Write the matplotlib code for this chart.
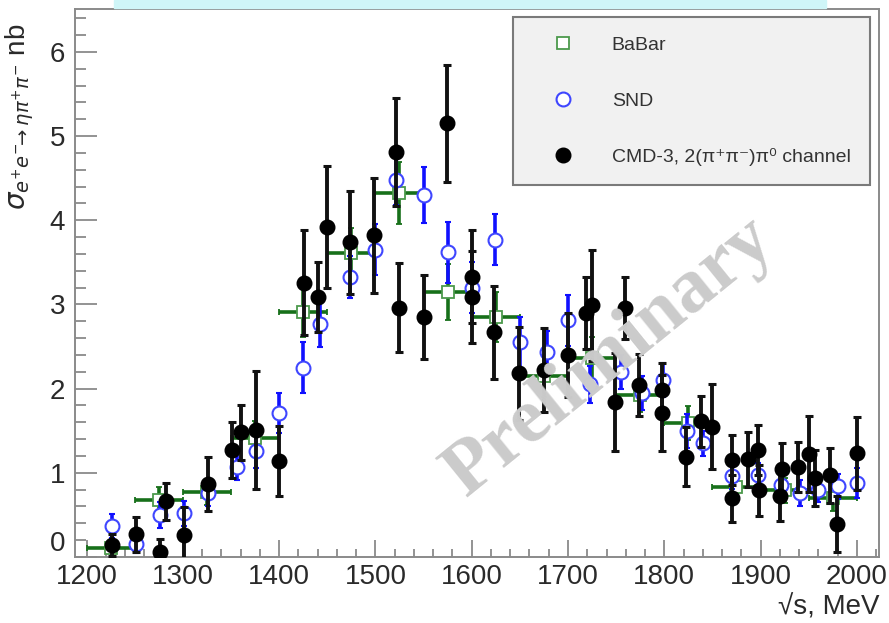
import numpy as np
import matplotlib
matplotlib.use("Agg")
import matplotlib.pyplot as plt
from matplotlib.lines import Line2D
from matplotlib.patches import Rectangle
from matplotlib.ticker import MultipleLocator

# BaBar: bin centres (MeV), cross section (nb), stat. error
babar_x = [1225, 1275, 1325, 1375, 1425, 1475, 1525, 1575,
           1625, 1675, 1725, 1775, 1825, 1875, 1925, 1975]
babar_y = [0.11, 0.68, 0.77, 1.41, 2.91, 3.61, 4.32, 3.15,
           2.85, 2.15, 2.36, 1.92, 1.59, 0.83, 0.79, 0.70]
babar_err = [0.06, 0.15, 0.15, 0.2, 0.3, 0.3, 0.37, 0.33,
             0.3, 0.25, 0.25, 0.2, 0.2, 0.15, 0.15, 0.15]
babar_halfbin = 25

# SND
snd_x = [1226, 1251, 1276, 1301, 1326, 1356, 1376, 1400, 1425, 1442,
         1474, 1500, 1521, 1550, 1575, 1600, 1624, 1650, 1678, 1700,
         1723, 1755, 1777, 1799, 1824, 1840, 1870, 1897, 1921, 1941,
         1960, 1980, 2000]
snd_y = [0.37, 0.15, 0.50, 0.52, 0.76, 1.07, 1.26, 1.71, 2.25, 2.77,
         3.33, 3.65, 4.48, 4.30, 3.62, 3.20, 3.77, 2.55, 2.43, 2.81,
         2.05, 2.20, 1.95, 2.10, 1.50, 1.35, 0.96, 0.97, 0.86, 0.76,
         0.80, 0.84, 0.88]
snd_err = [0.14, 0.10, 0.15, 0.15, 0.15, 0.16, 0.2, 0.24, 0.3, 0.28,
           0.25, 0.3, 0.3, 0.33, 0.36, 0.3, 0.3, 0.3, 0.25, 0.3,
           0.22, 0.2, 0.2, 0.2, 0.2, 0.15, 0.15, 0.15, 0.15, 0.15,
           0.15, 0.15, 0.18]

# CMD-3, 2(pi+pi-)pi0 channel
cmd_x = [1226, 1251, 1276, 1282, 1301, 1326, 1351, 1360, 1376, 1400,
         1426, 1440, 1450, 1474, 1499, 1521, 1524, 1550, 1574, 1600,
         1600, 1623, 1649, 1675, 1700, 1719, 1725, 1749, 1759, 1774,
         1798, 1798, 1823, 1838, 1850, 1870, 1870, 1887, 1897, 1898,
         1920, 1922, 1939, 1950, 1957, 1972, 1979, 2000]
cmd_y = [0.14, 0.27, 0.06, 0.66, 0.26, 0.87, 1.27, 1.48, 1.51, 1.14,
         3.26, 3.09, 3.92, 3.74, 3.82, 4.81, 2.96, 2.85, 5.15, 3.33,
         3.09, 2.67, 2.18, 2.22, 2.40, 2.90, 2.99, 1.84, 2.96, 2.04,
         1.98, 1.71, 1.19, 1.61, 1.55, 1.15, 0.70, 1.16, 1.27, 0.79,
         0.73, 1.04, 1.07, 1.22, 0.94, 0.97, 0.39, 1.23]
cmd_err = [0.13, 0.21, 0.15, 0.22, 0.33, 0.32, 0.33, 0.33, 0.70, 0.42,
           0.62, 0.42, 0.72, 0.61, 0.68, 0.64, 0.53, 0.50, 0.70, 0.55,
           0.55, 0.55, 0.55, 0.50, 0.50, 0.43, 0.66, 0.58, 0.37, 0.37,
           0.33, 0.45, 0.35, 0.30, 0.50, 0.30, 0.28, 0.33, 0.30, 0.30,
           0.30, 0.32, 0.30, 0.45, 0.33, 0.33, 0.33, 0.43]

plt.rcParams['font.family'] = ['Liberation Sans', 'DejaVu Sans']
plt.rcParams['mathtext.fontset'] = 'dejavusans'

fig = plt.figure(figsize=(8.89, 6.23), dpi=100)
# light cyan strip from the slide at the very top
fig.patches.append(Rectangle((114/889, 1 - 8/623), 712/889, 8/623,
                             transform=fig.transFigure, color='#cff6f8', zorder=0))

ax = fig.add_axes([75/889, 66/623, 804/889, 548/623])

ax.errorbar(babar_x, babar_y, xerr=babar_halfbin, yerr=babar_err, fmt='s',
            mfc='white', mec='#4c9a4c', mew=1.3, ms=9, ecolor='#17701a',
            elinewidth=2.6, capsize=2.5, capthick=2, zorder=2)
ax.errorbar(snd_x, snd_y, yerr=snd_err, fmt='o', mfc='white', mec='#3f46ff',
            mew=1.5, ms=10, ecolor='#1010ff', elinewidth=2.6, capsize=2.5,
            capthick=2.2, zorder=3)
ax.errorbar(cmd_x, cmd_y, yerr=cmd_err, fmt='o', color='black', ms=10.5,
            ecolor='#111111', elinewidth=2.8, capsize=3, capthick=2.2, zorder=4)

ax.set_xlim(1188, 2023)
ax.set_ylim(0, 6.51)
ax.xaxis.set_major_locator(MultipleLocator(100))
ax.xaxis.set_minor_locator(MultipleLocator(20))
ax.yaxis.set_major_locator(MultipleLocator(1))
ax.yaxis.set_minor_locator(MultipleLocator(0.2))

for s in ax.spines.values():
    s.set_color('#8a8a8a')
    s.set_linewidth(1.4)
ax.tick_params(axis='both', which='both', direction='in', color='#8a8a8a',
               labelcolor='#2a2a2a', labelsize=20, width=1.3)
ax.tick_params(axis='y', which='major', length=16, pad=7)
ax.tick_params(axis='y', which='minor', length=8)
ax.tick_params(axis='x', which='major', length=12, pad=5)
ax.tick_params(axis='x', which='minor', length=6)

# legend
handles = [
    Line2D([], [], ls='none', marker='s', mfc='white', mec='#4c9a4c', mew=1.3, ms=9),
    Line2D([], [], ls='none', marker='o', mfc='white', mec='#3f46ff', mew=1.5, ms=10),
    Line2D([], [], ls='none', marker='o', color='black', ms=10.5),
]
labels = ['BaBar', 'SND', 'CMD-3, 2(π⁺π⁻)π⁰ channel']
leg = ax.legend(handles, labels, loc='upper right', bbox_to_anchor=(870/889, 1 - 17/623),
                bbox_transform=fig.transFigure, fontsize=14, frameon=True,
                fancybox=False, borderpad=1.0, labelspacing=1.95, handlelength=3.2,
                handletextpad=0.9, borderaxespad=0)
leg.get_frame().set_facecolor('#f1f1f1')
leg.get_frame().set_edgecolor('#7a7a7a')
leg.get_frame().set_linewidth(1.5)
leg.get_frame().set_alpha(1)
for t in leg.get_texts():
    t.set_color('#333333')

fig.text(0.022, 1 - 24/623, r'$\sigma_{e^{+}e^{-}\!\!\rightarrow\eta\pi^{+}\pi^{-}}$ nb',
         rotation=90, ha='center', va='top', fontsize=20, color='#2a2a2a')
fig.text(880/889, 1 - 614/623, '√s, MeV', ha='right', va='baseline',
         fontsize=20, color='#2a2a2a')

# watermark
fig.text(610/889, 1 - 357/623, 'Preliminary', rotation=39, ha='center', va='center',
         fontsize=56, fontweight='bold', family=['Liberation Serif', 'DejaVu Serif'],
         color='#cbcbcb', zorder=10)

# keep the "0" of the y axis clear of the "1200" below it
fig.canvas.draw()
for tick in ax.yaxis.get_major_ticks():
    if abs(tick.get_loc()) < 1e-9:
        tick.label1.set_verticalalignment('bottom')

fig.savefig('out.png', dpi=100)
